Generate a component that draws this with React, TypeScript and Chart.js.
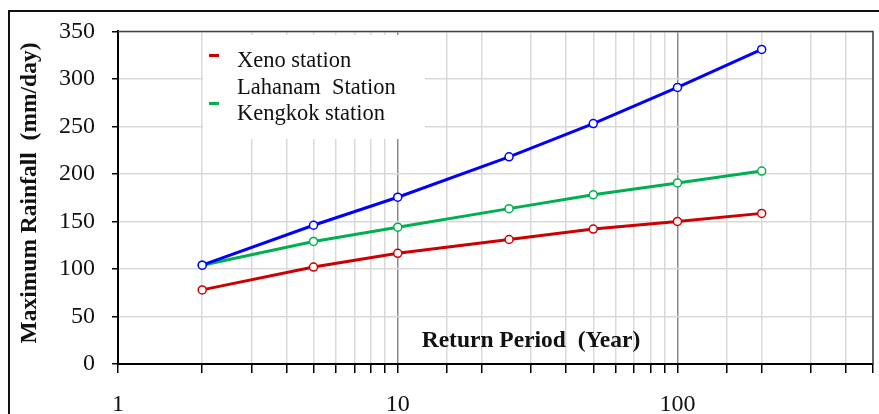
import React, { useEffect, useRef } from "react";
import { Chart, registerables } from "chart.js";

Chart.register(...registerables);

// Return periods (years) and maximum daily rainfall (mm/day) for each station
const returnPeriods = [2, 5, 10, 25, 50, 100, 200];
const xenoRain = [78, 102, 116.5, 131, 142, 150, 158.5];
const lahanamRain = [104, 146, 175.5, 218, 253, 291, 331];
const kengkokRain = [104, 129, 144, 163.5, 178, 190.5, 203];

const seriesNames = ["Xeno station", "Lahanam  Station", "Kengkok station"];
const seriesColors = ["#cc0000", "#0000ff", "#00b050"];
const legendSwatches = [true, false, true];

const xLabelledTicks = [1, 10, 100];
const xMin = 1;
const xMax = 500;
const yMin = 0;
const yMax = 350;
const yStep = 50;

const yTitle = "Maximum Rainfall  (mm/day)";
const xTitle = "Return Period  (Year)";

const SERIF = "'Liberation Serif', 'Times New Roman', serif";

const decorPlugin = {
  id: "decor",
  beforeDraw(chart: any) {
    const { ctx, width, height } = chart;
    ctx.save();
    ctx.fillStyle = "#ffffff";
    ctx.fillRect(0, 0, width, height);
    ctx.restore();
  },
  afterDraw(chart: any) {
    const { ctx, chartArea: a } = chart;
    ctx.save();

    // top and right edges of the plot area
    ctx.strokeStyle = "#404040";
    ctx.lineWidth = 1.5;
    ctx.beginPath();
    ctx.moveTo(a.left, a.top);
    ctx.lineTo(a.right, a.top);
    ctx.lineTo(a.right, a.bottom);
    ctx.stroke();

    // outer frame
    ctx.strokeStyle = "#111";
    ctx.lineWidth = 2;
    ctx.beginPath();
    ctx.moveTo(9, 420);
    ctx.lineTo(9, 11);
    ctx.lineTo(885, 11);
    ctx.stroke();

    // axis titles
    ctx.fillStyle = "#111";
    ctx.font = `bold 23.5px ${SERIF}`;
    ctx.textAlign = "center";
    ctx.textBaseline = "middle";
    ctx.save();
    ctx.translate(30, 193);
    ctx.rotate(-Math.PI / 2);
    ctx.fillText(yTitle, 0, 0);
    ctx.restore();
    ctx.fillText(xTitle, 531, 341);

    // legend box
    ctx.fillStyle = "#ffffff";
    ctx.fillRect(203, 35, 222, 104);
    ctx.font = `22.5px ${SERIF}`;
    ctx.textAlign = "left";
    ctx.textBaseline = "alphabetic";
    seriesNames.forEach((name, i) => {
      if (legendSwatches[i]) {
        ctx.fillStyle = seriesColors[i];
        ctx.fillRect(209, 54 + i * 24, 10, 3);
      }
      ctx.fillStyle = "#111";
      ctx.fillText(name, 237, 67 + i * 26.5);
    });

    ctx.restore();
  },
};

export default function App() {
  const canvasRef = useRef<HTMLCanvasElement | null>(null);

  useEffect(() => {
    if (!canvasRef.current) return;
    const series = [xenoRain, lahanamRain, kengkokRain];
    const datasets = series.map((vals, i) => ({
      label: seriesNames[i],
      data: returnPeriods.map((x, j) => ({ x, y: vals[j] })),
      borderColor: seriesColors[i],
      backgroundColor: seriesColors[i],
      borderWidth: 3,
      pointRadius: 4,
      pointBorderWidth: 1.5,
      pointBackgroundColor: "#ffffff",
      pointBorderColor: seriesColors[i],
      tension: 0,
      fill: false,
    }));

    const chart = new Chart(canvasRef.current, {
      type: "line",
      data: { datasets },
      plugins: [decorPlugin],
      options: {
        animation: false,
        responsive: false,
        devicePixelRatio: 1,
        layout: { padding: { top: 30, right: 6, left: 0, bottom: 0 } },
        plugins: {
          legend: { display: false },
          tooltip: { enabled: false },
        },
        scales: {
          x: {
            type: "logarithmic",
            min: xMin,
            max: xMax,
            afterFit(scale: any) {
              scale.height = 50;
              scale.paddingLeft = 0;
              scale.paddingRight = 0;
            },
            border: { color: "#000", width: 2 },
            grid: {
              color: (c: any) => {
                const v = c.tick ? c.tick.value : 0;
                return v === 10 || v === 100 ? "#8a8a8a" : "#d9d9d9";
              },
              lineWidth: 1.5,
              tickColor: "#000",
              tickLength: 9,
              tickWidth: 1.5,
            },
            ticks: {
              autoSkip: false,
              maxRotation: 0,
              minRotation: 0,
              padding: 17,
              color: "#111",
              font: { family: SERIF, size: 24 },
              callback: (v: any) => (xLabelledTicks.includes(Number(v)) ? String(v) : ""),
            },
          },
          y: {
            min: yMin,
            max: yMax,
            afterFit(scale: any) {
              scale.width = 118;
            },
            border: { color: "#000", width: 2 },
            grid: {
              color: "#d9d9d9",
              lineWidth: 1.5,
              tickColor: "#000",
              tickLength: 6,
              tickWidth: 1.5,
            },
            ticks: {
              stepSize: yStep,
              padding: 17,
              color: "#111",
              font: { family: SERIF, size: 24 },
            },
          },
        },
      } as any,
    });
    return () => chart.destroy();
  }, []);

  return (
    <div style={{ position: "fixed", left: 0, top: 0, width: 879, height: 414, background: "#fff" }}>
      <canvas ref={canvasRef} width={879} height={414} />
    </div>
  );
}
